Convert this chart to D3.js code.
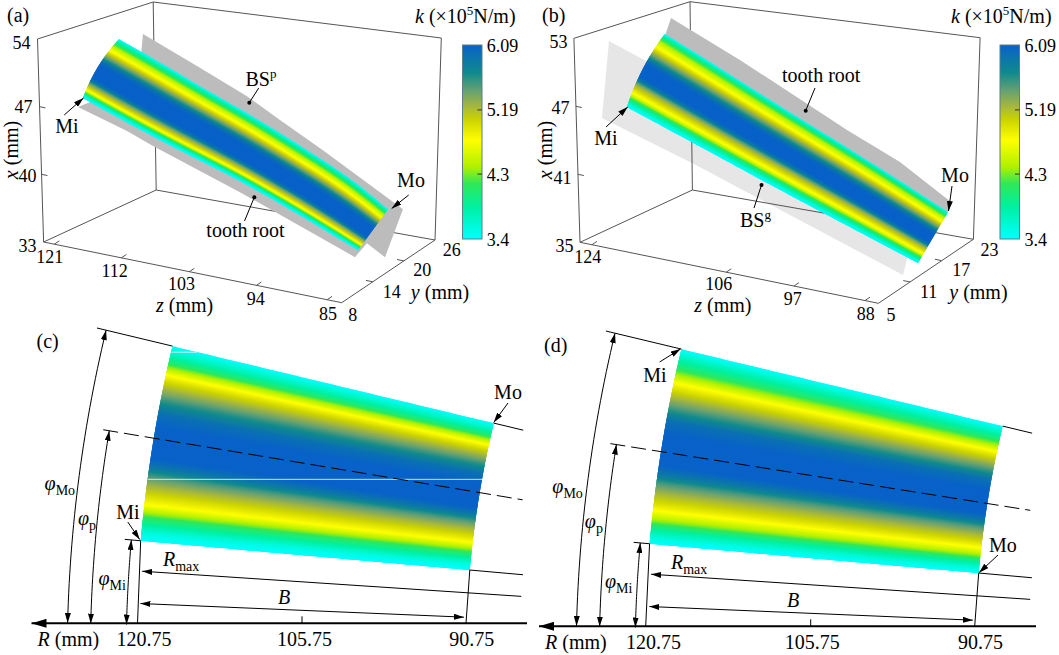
<!DOCTYPE html>
<html><head><meta charset="utf-8">
<style>html,body{margin:0;background:#fff}svg{display:block}text{font-family:"Liberation Serif",serif;fill:#000}</style>
<script src="https://cdn.jsdelivr.net/npm/d3@7"></script></head><body>
<svg id="c" width="1059" height="655"></svg>
<script>
// ---------- colour bar ----------
const colorK   = [3.4,3.85,4.17,4.4,4.77,5.05,5.26,5.47,5.70,6.09];
const colorHex = ['#00ffff','#00f0a0','#30e858','#b0f000','#ffff00','#ccd400','#a0b444','#62a074','#108a8c','#0862c8'];
const barTicks = [6.09,5.19,4.3,3.4];
// ---------- stiffness across the tooth (root-to-root section) ----------
const kAcross = [3.40,3.75,4.10,4.45,4.77,5.05,5.35,5.65,5.95,6.09,6.09,5.85,5.55,5.25,5.00,4.77,4.45,4.15,3.85,3.55,3.40];
const vAcrossA = [0,.04,.09,.14,.21,.26,.31,.36,.41,.47,.68,.73,.76,.80,.84,.875,.90,.92,.945,.975,1];
const vAcrossB = [0,.03,.07,.12,.19,.24,.29,.34,.39,.44,.60,.65,.68,.72,.77,.82,.86,.89,.93,.97,1];
const vAcrossC = [0,.05,.09,.12,.15,.19,.24,.29,.35,.42,.58,.63,.67,.72,.77,.815,.85,.88,.92,.96,1];
const vAcrossD = [0,.05,.10,.14,.175,.22,.27,.32,.37,.44,.60,.65,.69,.74,.79,.83,.87,.90,.93,.97,1];
// ---------- panel (a): axis ticks ----------
const zTicksA = [121,112,103,94,85], yTicksA = [8,14,20,26], xTicksA = [33,40,47,54];
// panel (a): surface edges read on the plane y = yPlaneA (mm)
const yPlaneA = 17;
const upperZA = [116.66,111.07,106.46,99.53,93.83,88.62,84.04];
const upperXA = [51.49,49.78,48.21,46.11,44.00,42.12,39.61];
const lowerZA = [121.33,114.77,107.46,102.23,94.09,87.89];
const lowerXA = [44.58,42.62,40.69,39.43,36.83,34.70];
const blankZA = [113.68,107.12,101.05,97.06,91.86,87.75,82.18,84.58,86.76,88.29,102.27,112.85,116.01,121.98,119.86,114.0];
const blankXA = [52.53,50.37,48.32,46.55,44.35,42.48,39.94,34.55,35.62,33.91,38.18,41.09,42.09,43.53,44.63,50.30];
// ---------- panel (b) ----------
const zTicksB = [124,106,97,88], yTicksB = [5,11,17,23], xTicksB = [35,41,47,53];
const yPlaneB = 14;
const upperZB = [118.56,111.54,105.86,99.57,92.56,84.34];
const upperXB = [51.38,49.25,47.44,45.56,43.44,40.78];
const lowerZB = [123.51,115.87,104.96,96.46,88.22];
const lowerXB = [44.19,42.33,39.64,37.65,35.70];
const rootZB = [117.76,109.42,96.48,90.07,83.93,84.34,92.58,114.35,118.57];
const rootXB = [52.91,50.45,46.2,44.34,41.73,40.78,42.81,49.26,51.2];
const gearZB = [125.48,126.63,115.70,103.82,90.1,89.42,92.67,114.55,120.75];
const gearXB = [49.72,42.76,40.42,37.6,34.35,36.22,40.59,44.38,48.58];
// ---------- panels (c), (d): developed surface in R (mm), phi (deg) ----------
const rTicks = [120.75,105.75,90.75];
const rInner = 90.75, rOuter = 120.75;
const phiMi = 5.08, phiMo = 13.48, phiPC = 9.48, phiPD = 9.03, phiAxis = 1.5;
const phiRmax = 3.79, phiB = 2.41;
const seamC = [[[120.75,7.71],[90.75,10.24]],[[120.7,13.22],[118.45,13.47]]];

const svg = d3.select('#c');
const defs = svg.append('defs');
function marker(id,w,h){
  defs.append('marker').attr('id',id).attr('viewBox',`0 0 ${w} ${h}`).attr('refX',w).attr('refY',h/2)
    .attr('markerWidth',w).attr('markerHeight',h).attr('markerUnits','userSpaceOnUse').attr('orient','auto-start-reverse')
    .append('path').attr('d',`M0,0L${w},${h/2}L0,${h}Z`).attr('fill','#000');
}
marker('ar',10,6); marker('arBig',15,9);
const kColor = d3.scaleLinear(colorK,colorHex).interpolate(d3.interpolateRgb);
const line = d3.line();

function rich(g,x,y,parts,anchor){
  const t=g.append('text').attr('x',x).attr('y',y).attr('font-size',20).attr('text-anchor',anchor||'start');
  let shift=0;
  parts.forEach(p=>{
    const s=t.append('tspan').text(p.t);
    if(p.i) s.attr('font-style','italic');
    const want=p.sub?5:p.sup?-8:0;
    if(want!==shift){s.attr('dy',want-shift);shift=want;}
    if(p.sub||p.sup) s.attr('font-size',p.sup?13:14);
  });
  return t;
}
function num(g,x,y,s,anchor){
  return g.append('text').attr('x',x).attr('y',y).attr('font-size',18).attr('text-anchor',anchor||'middle').text(s);
}
function stroke(g,pts,o={}){
  const p=g.append('path').attr('d',line(pts)).attr('fill','none').attr('stroke',o.c||'#000').attr('stroke-width',o.w||1);
  if(o.dash) p.attr('stroke-dasharray',o.dash);
  if(o.start) p.attr('marker-start',`url(#${o.start})`);
  if(o.end) p.attr('marker-end',`url(#${o.end})`);
  return p;
}
// each strip overlaps the next two, painted in order, so neither seams nor edge fringes show
function surface(g,surf,vArr){
  const kOfV=d3.scaleLinear(vArr,kAcross);
  const nV=150,nU=50, us=d3.range(nU+1).map(i=>i/nU), back=us.slice().reverse();
  d3.range(nV).forEach(i=>{
    const v0=i/nV, v1=Math.min(1,(i+3)/nV), col=kColor(kOfV((i+.5)/nV));
    const pts=us.map(u=>surf(u,v0)).concat(back.map(u=>surf(u,v1)));
    g.append('path').attr('d',line(pts)+'Z').attr('fill',col);
  });
}
function colorbar(g,id,b){
  const y=d3.scaleLinear([6.09,3.4],[b.y0,b.y1]);
  const grad=defs.append('linearGradient').attr('id',id).attr('x1',0).attr('x2',0).attr('y1',0).attr('y2',1);
  colorK.slice().reverse().forEach((k,i)=>{
    grad.append('stop').attr('offset',(y(k)-b.y0)/(b.y1-b.y0)).attr('stop-color',colorHex[colorK.length-1-i]);
  });
  g.append('rect').attr('x',b.x0).attr('y',b.y0).attr('width',b.x1-b.x0).attr('height',b.y1-b.y0)
    .attr('fill',`url(#${id})`).attr('stroke','#5d7f86').attr('stroke-width',1);
  barTicks.forEach(k=>{
    if(k!==6.09&&k!==3.4) stroke(g,[[b.x1-4.5,y(k)],[b.x1,y(k)]],{c:'#333'});
    num(g,b.lab,y(k)+6.5,k,'start');
  });
  rich(g,b.titleX,23,[{t:'k',i:1},{t:' (×10'},{t:'5',sup:1},{t:'N/m)'}]);
}

function panel3D(c){
  const g=svg.append('g');
  const {A,B,C,D,A1,D1,C1}=c.box;
  const S=c.basis;
  const fz=d3.scaleLinear(c.zDom,[0,1]), fy=d3.scaleLinear(c.yDom,[0,1]), fx=d3.scaleLinear(c.xDom,[0,1]);
  const project=(z,y,x)=>[
    S.A[0]+fz(z)*(S.B[0]-S.A[0])+fy(y)*(S.C[0]-S.B[0])+fx(x)*(S.A1[0]-S.A[0]),
    S.A[1]+fz(z)*(S.B[1]-S.A[1])+fy(y)*(S.C[1]-S.B[1])+fx(x)*(S.A1[1]-S.A[1])];
  const poly=(zs,xs)=>zs.map((z,i)=>project(z,c.yPlane,xs[i]));
  const fill=(zs,xs,col)=>g.append('path').attr('d',line(poly(zs,xs))+'Z').attr('fill',col);

  if(c.light) fill(c.light[0],c.light[1],'#e6e6e6');
  // frame
  const fr='#555';
  stroke(g,[A,B,C,D,A],{c:fr});
  stroke(g,[A,A1,D1,C1,C],{c:fr});
  stroke(g,[D,D1],{c:fr});
  const unit=(P,Q,l)=>{const d=Math.hypot(Q[0]-P[0],Q[1]-P[1]);return [(Q[0]-P[0])/d*l,(Q[1]-P[1])/d*l];};
  const along=(P,Q,f)=>[P[0]+f*(Q[0]-P[0]),P[1]+f*(Q[1]-P[1])];
  const zF=d3.scaleLinear(c.zAxisDom,c.zAxisFrac), yF=d3.scaleLinear(c.yDom,[0,1]), xF=d3.scaleLinear(c.xDom,[0,1]);
  const dz=unit(B,C,6), dy=unit(B,A,7), dx=unit(A,B,6);
  c.zTicks.forEach(v=>{const p=along(A,B,zF(v));stroke(g,[p,[p[0]+dz[0],p[1]+dz[1]]],{c:fr});});
  c.yTicks.slice(1,-1).forEach(v=>{const p=along(B,C,yF(v));stroke(g,[p,[p[0]+dy[0],p[1]+dy[1]]],{c:fr});});
  c.xTicks.slice(1,-1).forEach(v=>{const p=along(A,A1,xF(v));stroke(g,[p,[p[0]+dx[0],p[1]+dx[1]]],{c:fr});});
  // blank surfaces
  fill(c.dark[0],c.dark[1],'#bcbcbc');
  // contact surface
  const ub=[d3.interpolateBasis(c.upper[0]),d3.interpolateBasis(c.upper[1])];
  const lb=[d3.interpolateBasis(c.lower[0]),d3.interpolateBasis(c.lower[1])];
  const up=u=>project(ub[0](u),c.yPlane,ub[1](u)), lo=u=>project(lb[0](u),c.yPlane,lb[1](u));
  const axis=unit(up(0),up(1),1);
  surface(g,(u,v)=>{
    const a=up(u),b=lo(u),sag=3.5*4*v*(1-v)*(1-u);
    return [a[0]+(b[0]-a[0])*v-axis[0]*sag,a[1]+(b[1]-a[1])*v-axis[1]*sag];
  },c.v);
  // labels
  const L=c.lab;
  rich(g,L.tag[0],L.tag[1],[{t:L.tag[2]}]);
  c.xTicks.forEach((v,i)=>num(g,L.x[i][0],L.x[i][1],v,'end'));
  c.zTicks.forEach((v,i)=>num(g,L.z[i][0],L.z[i][1],v));
  c.yTicks.forEach((v,i)=>num(g,L.y[i][0],L.y[i][1],v));
  rich(g,L.zt[0],L.zt[1],[{t:'z',i:1},{t:' (mm)'}],'middle');
  rich(g,L.yt[0],L.yt[1],[{t:'y',i:1},{t:' (mm)'}],'middle');
  rich(g,L.xt[0],L.xt[1],[{t:'x',i:1},{t:' (mm)'}],'middle')
    .attr('transform',`rotate(-90 ${L.xt[0]} ${L.xt[1]})`);
  L.notes.forEach(n=>{
    rich(g,n.at[0],n.at[1],n.parts,n.anchor);
    if(n.arrow) stroke(g,n.arrow,{end:'ar'});
    if(n.lead){stroke(g,n.lead);g.append('circle').attr('cx',n.lead[1][0]).attr('cy',n.lead[1][1]).attr('r',2);}
  });
  colorbar(g,c.id,c.bar);
}

panel3D({id:'barA',zDom:[121,85],yDom:[8,26],xDom:[33,54],yPlane:yPlaneA,
  basis:{A:[43,242],B:[336,303],C:[428,240],A1:[37,39]},
  box:{A:[43.6,242],B:[341.7,302.7],C:[435,240],D:[156.2,190],A1:[37.5,39],D1:[153.2,2],C1:[441.3,38]},
  zAxisDom:zTicksA,zAxisFrac:[.036,.261,.489,.714,.951],
  zTicks:zTicksA,yTicks:yTicksA,xTicks:xTicksA,
  dark:[blankZA,blankXA],upper:[upperZA,upperXA],lower:[lowerZA,lowerXA],v:vAcrossA,
  bar:{x0:462.5,x1:482,y0:45,y1:239,lab:486.7,titleX:415},
  lab:{tag:[7,22,'(a)'],
    x:[[36.5,252],[36.5,182],[32.5,113],[30.4,49]],
    z:[[49.7,263],[114.6,277],[181.6,290],[255.7,305],[328,320]],
    y:[[352.7,321],[391.7,297.5],[422.3,276],[451.7,255.7]],
    zt:[184.6,312],yt:[440,299],xt:[18,150],
    notes:[
      {at:[67,133],parts:[{t:'Mi'}],anchor:'middle',arrow:[[64.2,115],[83.5,98]]},
      {at:[245.5,86],parts:[{t:'BS'},{t:'p',sup:1}],lead:[[258.7,88],[249.3,102.7]]},
      {at:[411,187],parts:[{t:'Mo'}],anchor:'middle',arrow:[[408.7,195],[391.7,208.5]]},
      {at:[245.5,237],parts:[{t:'tooth root'}],anchor:'middle',lead:[[244.5,221],[254.3,197.3]]}
    ]}
});
panel3D({id:'barB',zDom:[124,88],yDom:[5,23],xDom:[35,53],yPlane:yPlaneB,
  basis:{A:[579.3,242.3],B:[873.3,303.3],C:[966.7,239.3],A1:[573.3,38.3]},
  box:{A:[580,242.3],B:[878.4,303.3],C:[973.4,239.3],D:[692.4,190],A1:[573.9,38.3],D1:[690,1.7],C1:[980.1,37.7]},
  zAxisDom:zTicksB,zAxisFrac:[.04,.49,.717,.955],
  zTicks:zTicksB,yTicks:yTicksB,xTicks:xTicksB,
  light:[gearZB,gearXB],dark:[rootZB,rootXB],upper:[upperZB,upperXB],lower:[lowerZB,lowerXB],v:vAcrossB,
  bar:{x0:1000,x1:1019.5,y0:45,y1:239,lab:1024.5,titleX:951},
  lab:{tag:[542,22,'(b)'],
    x:[[573.6,252],[571.5,184],[569.6,114],[567.5,48]],
    z:[[587.8,263],[718.7,290],[792.8,305],[865.8,320]],
    y:[[891,321],[928.7,297.5],[961.2,276],[989.6,255.7]],
    zt:[722.8,312],yt:[978.4,299],xt:[552,150],
    notes:[
      {at:[606,145],parts:[{t:'Mi'}],anchor:'middle',arrow:[[606,127],[627.7,107]]},
      {at:[821.2,82],parts:[{t:'tooth root'}],anchor:'middle',lead:[[815,88],[805.7,110.7]]},
      {at:[740,227],parts:[{t:'BS'},{t:'g',sup:1}],lead:[[754,208],[761.5,185]]},
      {at:[955,182],parts:[{t:'Mo'}],anchor:'middle',arrow:[[952,186],[948.5,211]]}
    ]}
});

function panelPolar(c){
  const g=svg.append('g');
  const rPx=d3.scaleLinear([rInner,rOuter],[1016.2,1346.6]);
  const ang=d3.scaleLinear([0,180],[0,Math.PI]);
  const P=(R,phi)=>[c.cx-rPx(R)*Math.cos(ang(phi)),c.cy-rPx(R)*Math.sin(ang(phi))];
  const rAxis=d3.scaleLinear(rTicks,c.axisX);
  const axisPt=R=>[rAxis(R),c.axisY];
  const rOf=d3.scaleLinear([0,1],[rOuter,rInner]), phiOf=d3.scaleLinear([0,1],[phiMo,phiMi]);
  surface(g,(u,v)=>P(rOf(u),phiOf(v)),c.v);
  if(c.seams) c.seams.forEach(s=>stroke(g,[P(s[0][0],s[0][1]),P(s[1][0],s[1][1])],{c:'#dfeeea',w:.9}));
  // edge extensions
  stroke(g,[P(127.8,phiMo),P(rOuter,phiMo)]);
  stroke(g,[P(rInner,phiMo),P(88,phiMo)]);
  stroke(g,[P(125.4,c.phiP),P(86.8,c.phiP)],{dash:'15 6'});
  stroke(g,[P(122.2,phiMi),P(rOuter,phiMi)]);
  stroke(g,[P(rInner,phiMi),P(85.9,phiMi)]);
  stroke(g,[P(rOuter,phiMi),axisPt(rOuter)]);
  stroke(g,[P(rInner,phiMi),axisPt(rInner)]);
  stroke(g,[P(120.4,phiRmax),P(85.9,phiRmax)],{start:'ar'});
  stroke(g,[P(120.4,phiB),P(91,phiB)],{start:'ar',end:'ar'});
  // phi arcs
  const arc=(R,top)=>d3.range(0,31).map(i=>P(R,phiAxis+(top-phiAxis)*i/30));
  stroke(g,arc(126.95,phiMo),{start:'ar',end:'ar'});
  stroke(g,arc(124.85,c.phiP),{start:'ar',end:'ar'});
  stroke(g,arc(121.6,phiMi),{start:'ar',end:'ar'});
  // R axis
  stroke(g,[[c.axisEnd,c.axisY],[c.axisTip,c.axisY]],{w:2,end:'arBig'});
  stroke(g,[axisPt(105.75),[rAxis(105.75),c.axisY-7]]);
  const L=c.lab;
  rTicks.forEach((v,i)=>rich(g,L.r[i],c.axisY+23,[{t:v.toFixed(2)}],'middle'));
  rich(g,L.tag[0],L.tag[1],[{t:L.tag[2]}]);
  rich(g,L.rt,c.axisY+23,[{t:'R',i:1},{t:' (mm)'}]);
  rich(g,L.mo[0],L.mo[1],[{t:'φ',i:1},{t:'Mo',sub:1}]);
  rich(g,L.p[0],L.p[1],[{t:'φ',i:1},{t:'p',sub:1}]);
  rich(g,L.mi[0],L.mi[1],[{t:'φ',i:1},{t:'Mi',sub:1}]);
  rich(g,L.rmax[0],L.rmax[1],[{t:'R',i:1},{t:'max',sub:1}]);
  rich(g,L.b[0],L.b[1],[{t:'B',i:1}],'middle');
  rich(g,L.miT[0],L.miT[1],[{t:'Mi'}],'middle');
  stroke(g,L.miA,{end:'ar'});
  rich(g,L.moT[0],L.moT[1],[{t:'Mo'}],'middle');
  stroke(g,L.moA,{end:'ar'});
}
panelPolar({cx:1482,cy:660,axisX:[137.5,302,466],axisY:623.3,axisEnd:527,axisTip:31.5,phiP:phiPC,v:vAcrossC,seams:seamC,
  lab:{tag:[36.5,348,'(c)'],r:[144,304.5,471.7],rt:37.5,mo:[44.6,490],p:[78,525],mi:[98.4,585],rmax:[163,566],b:[284,604],
    miT:[127.8,519],miA:[[127.8,522],[139.7,539.5]],moT:[508,399],moA:[[508,403],[493.7,422.5]]}});
panelPolar({cx:1990.9,cy:663,axisX:[645.7,810.7,974.7],axisY:626.3,axisEnd:1036,axisTip:539,phiP:phiPD,v:vAcrossD,
  lab:{tag:[544,352,'(d)'],r:[653.5,812.3,980.4],rt:545,mo:[552.3,493],p:[584.8,528],mi:[605,588],rmax:[671,569],b:[793,607],
    miT:[654.8,382],miA:[[659.6,362],[680.5,349]],moT:[1002.8,552],moA:[[998,555],[979,572.7]]}});
</script></body></html>
